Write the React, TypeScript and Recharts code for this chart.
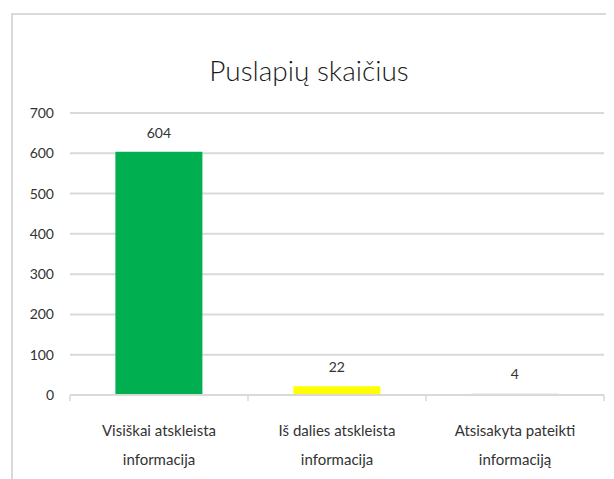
import React from "react";
import { BarChart, Bar, XAxis, YAxis, CartesianGrid, LabelList, Cell } from "recharts";

const categories = ["Visiškai atskleista informacija", "Iš dalies atskleista informacija", "Atsisakyta pateikti informaciją"];
const categoryLines = [["Visiškai atskleista", "informacija"], ["Iš dalies atskleista", "informacija"], ["Atsisakyta pateikti", "informaciją"]];
const values = [604, 22, 4];
const colors = ["#00b050", "#ffff00", "#e0e0e0"];
const yTicks = [0, 100, 200, 300, 400, 500, 600, 700];
const title = "Puslapių skaičius";

const data = categories.map((c, i) => ({ name: c, value: values[i] }));

const FONT = "Lato, 'Open Sans', sans-serif";

const CatTick = (props: any) => {
  const { x, y, payload, index } = props;
  const off = payload && payload.offset ? payload.offset : 89;
  const lines = categoryLines[index] || [payload.value];
  const last = index === categories.length - 1;
  return (
    <g>
      <line x1={x - off} x2={x - off} y1={y - 8} y2={y - 2} stroke="#d9d9d9" strokeWidth={1.5} />
      {last && <line x1={x + off} x2={x + off} y1={y - 8} y2={y - 2} stroke="#d9d9d9" strokeWidth={1.5} />}
      {lines.map((l: string, i: number) => (
        <text key={i} x={x} y={y + 33 + i * 29} textAnchor="middle" fontFamily={FONT} fontSize={15} fill="#333333">
          {l}
        </text>
      ))}
    </g>
  );
};

export default function App() {
  return (
    <div style={{ position: "relative", marginLeft: 3, marginTop: 5, width: 620, height: 480, borderTop: "2px solid #d9d9d9", borderLeft: "2px solid #d9d9d9", boxSizing: "border-box" }}>
      <div style={{ position: "absolute", left: 0, top: 38, width: 592, textAlign: "center", fontFamily: FONT, fontSize: 28, fontWeight: 300, color: "#1a1a1a" }}>
        {title}
      </div>
      <BarChart width={600} height={460} data={data} margin={{ top: 98, right: 9, bottom: 0, left: 0 }} barCategoryGap="25.5%">
        <CartesianGrid vertical={false} stroke="#d9d9d9" strokeWidth={2} />
        <XAxis dataKey="name" height={80} tickLine={false} axisLine={{ stroke: "#d9d9d9", strokeWidth: 2 }} tick={<CatTick />} interval={0} />
        <YAxis width={57} domain={[0, 700]} ticks={yTicks} axisLine={false} tickLine={false} tickSize={6} tickMargin={10} tick={{ fontFamily: FONT, fontSize: 14, fill: "#333333" }} />
        <Bar dataKey="value" isAnimationActive={false}>
          {data.map((d, i) => (
            <Cell key={i} fill={colors[i]} />
          ))}
          <LabelList dataKey="value" position="top" offset={14} style={{ fontFamily: FONT, fontSize: 14, fill: "#333333" }} />
        </Bar>
      </BarChart>
    </div>
  );
}
